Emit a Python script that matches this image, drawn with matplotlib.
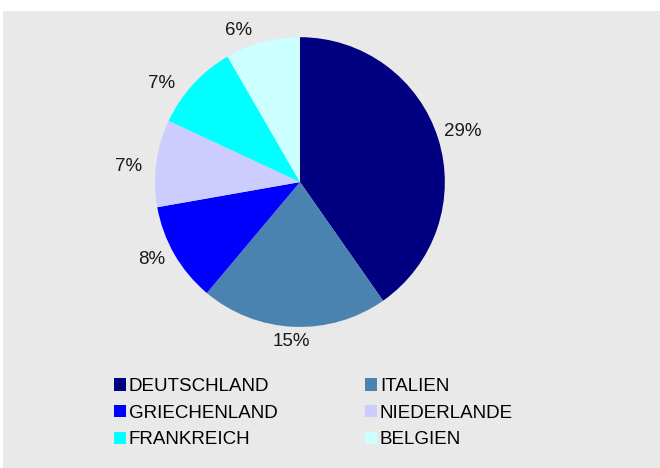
import matplotlib.pyplot as plt
import numpy as np
from matplotlib.patches import Rectangle

countries = ['DEUTSCHLAND', 'ITALIEN', 'GRIECHENLAND', 'NIEDERLANDE', 'FRANKREICH', 'BELGIEN']
shares = [29, 15, 8, 7, 7, 6]
colors = ['#000080', '#4a82b0', '#0000ff', '#ccccff', '#00ffff', '#ccffff']

plt.rcParams['font.family'] = ['Liberation Sans', 'DejaVu Sans']

fig = plt.figure(figsize=(6.6, 4.68), dpi=100)
fig.patch.set_facecolor('white')
# grey chart area
fig.patches.append(Rectangle((3/660, 0), 1, 1 - 11/468, transform=fig.transFigure,
                             facecolor='#e9e9e9', edgecolor='none', zorder=-10))

ax = fig.add_axes([0.235, 0.301, 0.439, 0.62])
wedges, _ = ax.pie(shares, colors=colors, startangle=90, counterclock=False,
                   wedgeprops=dict(linewidth=0))
ax.set_xlim(-1, 1)
ax.set_ylim(-1, 1)
ax.set_aspect('equal')

# percentage labels outside each slice (angle tweak in deg, distance in radii)
lbl_shift = [0.4, -0.8, -3.1, 1.5, 6.5, 7.0]
lbl_dist = [1.18, 1.09, 1.15, 1.19, 1.18, 1.14]
for w, v, s, d in zip(wedges, shares, lbl_shift, lbl_dist):
    mid = np.deg2rad((w.theta1 + w.theta2) / 2 + s)
    ax.text(d * np.cos(mid), d * np.sin(mid) - 0.014, '%d%%' % v,
            ha='center', va='center', fontsize=13.5, color='#1a1a1a', clip_on=False)

# legend is filled row by row in the reference
order = [0, 2, 4, 1, 3, 5]
fig.legend([wedges[i] for i in order], [countries[i] for i in order], ncol=2,
           frameon=False, loc='upper left',
           bbox_to_anchor=(114/660, 1 - 378/468), fontsize=13.5,
           handlelength=0.65, handleheight=0.65, handletextpad=0.15,
           labelspacing=0.52, columnspacing=4.65, borderpad=0, borderaxespad=0)

fig.savefig('out.png', dpi=100)
